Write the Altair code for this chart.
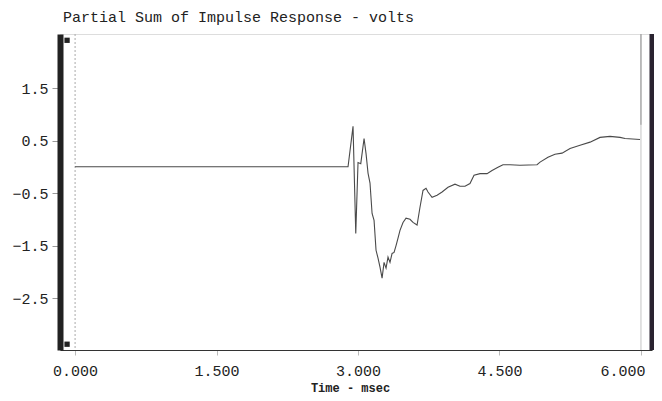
import altair as alt
import pandas as pd

# Data
time_ms = [0.000, 2.894, 2.947, 2.976, 3.000, 3.029, 3.064, 3.085, 3.106, 3.127,
           3.149, 3.170, 3.191, 3.212, 3.233, 3.255, 3.276, 3.297, 3.318, 3.339,
           3.361, 3.382, 3.403, 3.424, 3.445, 3.477, 3.509, 3.551, 3.583, 3.626,
           3.657, 3.689, 3.721, 3.742, 3.785, 3.838, 3.891, 3.954, 4.028, 4.081,
           4.134, 4.187, 4.230, 4.293, 4.368, 4.421, 4.484, 4.537, 4.611, 4.717,
           4.898, 4.930, 5.014, 5.088, 5.163, 5.248, 5.354, 5.460, 5.566, 5.672,
           5.778, 5.831, 5.990]
volts = [0.00, 0.00, 0.77, -1.27, 0.08, 0.06, 0.54, 0.25, -0.12, -0.31,
         -0.89, -1.02, -1.59, -1.74, -1.91, -2.12, -1.82, -1.93, -1.72, -1.82,
         -1.65, -1.63, -1.50, -1.36, -1.21, -1.06, -0.98, -1.00, -1.06, -1.11,
         -0.77, -0.45, -0.41, -0.48, -0.58, -0.54, -0.48, -0.39, -0.33, -0.37,
         -0.37, -0.32, -0.16, -0.13, -0.13, -0.07, -0.01, 0.04, 0.04, 0.03,
         0.04, 0.09, 0.18, 0.24, 0.26, 0.35, 0.41, 0.47, 0.56, 0.58,
         0.56, 0.54, 0.52]

x_ticks = [0.0, 1.5, 3.0, 4.5, 6.0]
y_ticks = [1.5, 0.5, -0.5, -1.5, -2.5]
x_domain = [-0.16, 6.117]
y_domain = [-3.49, 2.53]

df = pd.DataFrame({"t": time_ms, "v": volts})

FONT = "Liberation Mono"

xs = alt.Scale(domain=x_domain, nice=False, zero=False)
ys = alt.Scale(domain=y_domain, nice=False, zero=False)

line = alt.Chart(df).mark_line(color="#4a4a4a", strokeWidth=1.1).encode(
    x=alt.X("t:Q", scale=xs,
            axis=alt.Axis(values=x_ticks, format=".3f", title="Time - msec",
                          grid=False, domainColor="#333", domainWidth=1,
                          tickColor="#bbb", tickSize=5, labelPadding=8,
                          labelFontSize=15, labelFont=FONT, labelColor="#222",
                          labelFlush=12, labelFlushOffset=4,
                          titleFont=FONT, titleFontSize=12, titleFontWeight="bold",
                          titleColor="#222", titleX=290, titleY=44,
                          titleAlign="center", titleBaseline="bottom")),
    y=alt.Y("v:Q", scale=ys,
            axis=alt.Axis(values=y_ticks, format=".1f", title=None,
                          grid=False, domainColor="#222", domainWidth=6,
                          tickColor="#999", tickSize=8, labelPadding=4,
                          labelFontSize=15, labelFont=FONT, labelColor="#222")),
)

zero_rule = alt.Chart(pd.DataFrame({"t": [0.0]})).mark_rule(
    color="#aaa", strokeDash=[2, 2], strokeWidth=1).encode(x=alt.X("t:Q", scale=xs))

end_rule = alt.Chart(pd.DataFrame({"t": [6.0]})).mark_rule(
    color="#c4c4c4", strokeWidth=1).encode(x=alt.X("t:Q", scale=xs))

end_rule_top = alt.Chart(pd.DataFrame({"t": [6.0], "a": [y_domain[1]], "b": [0.8]})).mark_rule(
    color="#999", strokeWidth=1).encode(
    x=alt.X("t:Q", scale=xs), y=alt.Y("a:Q", scale=ys), y2="b:Q")

right_bar = alt.Chart(pd.DataFrame({"t": [x_domain[1]]})).mark_rule(
    color="#2a2330", strokeWidth=5).encode(x=alt.X("t:Q", scale=xs))

markers = alt.Chart(pd.DataFrame({"t": [-0.085, -0.085], "v": [2.41, -3.38]})).mark_square(
    color="#222", size=28, opacity=1).encode(
    x=alt.X("t:Q", scale=xs), y=alt.Y("v:Q", scale=ys))

chart = alt.layer(zero_rule, end_rule, end_rule_top, line, right_bar, markers).properties(
    width=592, height=316,
    title=alt.TitleParams("Partial Sum of Impulse Response - volts", anchor="start",
                          frame="group",
                          font=FONT, fontSize=15, fontWeight="normal", color="#222",
                          offset=7, dx=3),
    autosize=alt.AutoSizeParams(type="none"),
    padding={"left": 52, "top": 26, "right": 2, "bottom": 45},
).configure_view(stroke="#333", strokeWidth=1).configure(background="white")

chart.save("out.html", embed_options={"renderer": "svg", "actions": False})
